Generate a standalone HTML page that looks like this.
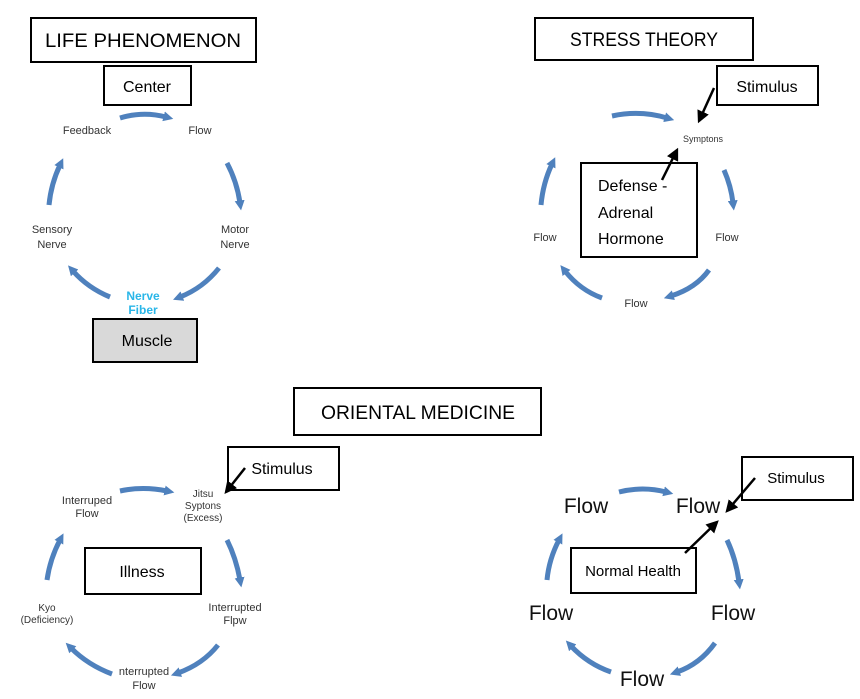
<!DOCTYPE html>
<html><head><meta charset="utf-8"><style>
html,body{margin:0;padding:0;background:#fff;}
svg{display:block;font-family:"Liberation Sans",sans-serif;}
</style></head><body>
<svg width="860" height="699" viewBox="0 0 860 699" xmlns="http://www.w3.org/2000/svg">
<defs>
<marker id="b" markerWidth="2" markerHeight="2" refX="0.5" refY="1" orient="auto" markerUnits="strokeWidth"><path d="M0,0 L2,1 L0,2 z" fill="#4f81bd"/></marker>
<marker id="k" markerWidth="5" markerHeight="5" refX="4" refY="2.5" orient="auto" markerUnits="strokeWidth"><path d="M0,0 L5,2.5 L0,5 z" fill="#000"/></marker>
</defs>
<g fill="none" stroke="#4f81bd" stroke-width="5">
<path d="M120,118 Q143,111 166,117" marker-end="url(#b)"/>
<path d="M227,163 Q237,182 240,203" marker-end="url(#b)"/>
<path d="M49,205 Q51,184 60,165" marker-end="url(#b)"/>
<path d="M219,268 Q203,288 180,297" marker-end="url(#b)"/>
<path d="M110,297 Q88,288 73,271" marker-end="url(#b)"/>
<path d="M612,116 Q640,110 667,118" marker-end="url(#b)"/>
<path d="M724,170 Q731,186 733,203" marker-end="url(#b)"/>
<path d="M541,205 Q543,183 552,164" marker-end="url(#b)"/>
<path d="M709,270 Q696,288 671,296" marker-end="url(#b)"/>
<path d="M602,298 Q580,290 565,271" marker-end="url(#b)"/>
<path d="M120,491 Q143,486 167,491" marker-end="url(#b)"/>
<path d="M227,540 Q236,558 240,580" marker-end="url(#b)"/>
<path d="M47,580 Q50,559 60,540" marker-end="url(#b)"/>
<path d="M218,645 Q203,664 178,673" marker-end="url(#b)"/>
<path d="M112,674 Q88,665 71,648" marker-end="url(#b)"/>
<path d="M619,492 Q643,486 666,492" marker-end="url(#b)"/>
<path d="M727,540 Q736,559 739,582" marker-end="url(#b)"/>
<path d="M547,580 Q549,559 559,540" marker-end="url(#b)"/>
<path d="M715,643 Q700,664 677,672" marker-end="url(#b)"/>
<path d="M611,672 Q588,664 571,646" marker-end="url(#b)"/>
</g>
<g fill="#fff" stroke="#000" stroke-width="2">
<rect x="31" y="18" width="225" height="44"/>
<rect x="104" y="66" width="87" height="39"/>
<rect x="93" y="319" width="104" height="43" fill="#d9d9d9"/>
<rect x="535" y="18" width="218" height="42"/>
<rect x="717" y="66" width="101" height="39"/>
<rect x="581" y="163" width="116" height="94"/>
<rect x="294" y="388" width="247" height="47"/>
<rect x="228" y="447" width="111" height="43"/>
<rect x="85" y="548" width="116" height="46"/>
<rect x="742" y="457" width="111" height="43"/>
<rect x="571" y="548" width="125" height="45"/>
</g>
<g stroke="#000" stroke-width="2.5" fill="none">
<path d="M714,88 L699,121" marker-end="url(#k)"/>
<path d="M662,180 L677,150" marker-end="url(#k)"/>
<path d="M245,468 L226,492" marker-end="url(#k)"/>
<path d="M755,478 L727,511" marker-end="url(#k)"/>
<path d="M685,553 L717,522" marker-end="url(#k)"/>
</g>
<g fill="#000" text-anchor="middle">
<text x="143" y="47" font-size="19" textLength="196" lengthAdjust="spacingAndGlyphs">LIFE PHENOMENON</text>
<text x="147" y="92" font-size="16">Center</text>
<text x="147" y="346" font-size="16">Muscle</text>
<text x="644" y="46" font-size="19" textLength="148" lengthAdjust="spacingAndGlyphs">STRESS THEORY</text>
<text x="767" y="92" font-size="16">Stimulus</text>
<text x="418" y="419" font-size="19" textLength="194" lengthAdjust="spacingAndGlyphs">ORIENTAL MEDICINE</text>
<text x="282" y="474" font-size="16">Stimulus</text>
<text x="142" y="577" font-size="16">Illness</text>
<text x="796" y="483" font-size="15">Stimulus</text>
<text x="633" y="576" font-size="15">Normal Health</text>
</g>
<g fill="#000" font-size="16" text-anchor="start">
<text x="598" y="191">Defense -</text>
<text x="598" y="218">Adrenal</text>
<text x="598" y="244">Hormone</text>
</g>
<g fill="#333" font-size="11" text-anchor="middle">
<text x="87" y="134">Feedback</text>
<text x="200" y="134">Flow</text>
<text x="52" y="233">Sensory</text>
<text x="52" y="248">Nerve</text>
<text x="235" y="233">Motor</text>
<text x="235" y="248">Nerve</text>
<text x="545" y="241">Flow</text>
<text x="727" y="241">Flow</text>
<text x="636" y="307">Flow</text>
<text x="87" y="504">Interruped</text>
<text x="87" y="517">Flow</text>
<text x="203" y="497" font-size="10">Jitsu</text>
<text x="203" y="509" font-size="10">Syptons</text>
<text x="203" y="521" font-size="10">(Excess)</text>
<text x="47" y="611" font-size="10">Kyo</text>
<text x="47" y="623" font-size="10">(Deficiency)</text>
<text x="235" y="611">Interrupted</text>
<text x="235" y="624">Flpw</text>
<text x="144" y="675">nterrupted</text>
<text x="144" y="689">Flow</text>
</g>
<text x="703" y="142" font-size="9" fill="#333" text-anchor="middle">Symptons</text>
<g fill="#29b6e8" font-size="12" font-weight="bold" text-anchor="middle">
<text x="143" y="300">Nerve</text>
<text x="143" y="314">Fiber</text>
</g>
<g fill="#111" font-size="21" text-anchor="middle">
<text x="586" y="513">Flow</text>
<text x="698" y="513">Flow</text>
<text x="551" y="620">Flow</text>
<text x="733" y="620">Flow</text>
<text x="642" y="686">Flow</text>
</g>
</svg>
</body></html>
